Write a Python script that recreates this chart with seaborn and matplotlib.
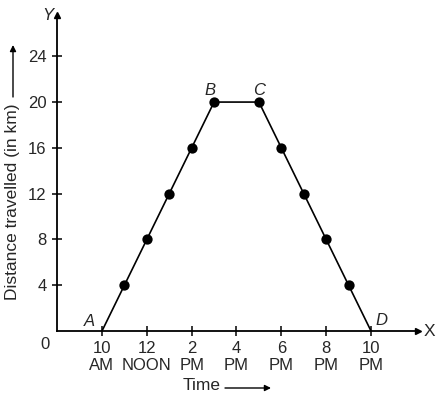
import pandas as pd
import matplotlib
matplotlib.use("Agg")
import matplotlib.pyplot as plt
import seaborn as sns

# hours on a 24h clock and distance travelled (km)
hours = [10, 11, 12, 13, 14, 15, 17, 18, 19, 20, 21, 22]
distance = [0, 4, 8, 12, 16, 20, 20, 16, 12, 8, 4, 0]

tick_hours = [10, 12, 14, 16, 18, 20, 22]
tick_labels = ["10\nAM", "12\nNOON", "2\nPM", "4\nPM", "6\nPM", "8\nPM", "10\nPM"]
y_ticks = [4, 8, 12, 16, 20, 24]

point_names = ["A", "B", "C", "D"]
point_hours = [10, 15, 17, 22]
point_dist = [0, 20, 20, 0]

sns.set_style("white")
plt.rcParams['font.family'] = ['Liberation Sans', 'DejaVu Sans']

df = pd.DataFrame({"hour": hours, "distance": distance})

W, H = 436, 396
fig = plt.figure(figsize=(W / 100, H / 100), dpi=100)
ax = fig.add_axes([0.131, 0.164, 0.828, 0.798])

sns.lineplot(data=df, x="hour", y="distance", color="black", linewidth=1.2, ax=ax)
inner = df.iloc[1:-1]
sns.scatterplot(data=inner, x="hour", y="distance", color="black", s=55,
                edgecolor="black", linewidth=0, ax=ax, zorder=5)

ax.set_xlim(8, 24.1)
ax.set_ylim(0, 27.6)
ax.set_xticks(tick_hours)
ax.set_xticklabels(tick_labels, fontsize=12, linespacing=1.1)
ax.set_yticks(y_ticks)
ax.set_yticklabels([str(v) for v in y_ticks], fontsize=12)
ax.tick_params(axis="both", direction="inout", length=7, width=1.1,
               color="black", pad=4, bottom=True, left=True)
ax.tick_params(axis="y", pad=4)

for side in ["top", "right"]:
    ax.spines[side].set_visible(False)
for side in ["left", "bottom"]:
    ax.spines[side].set_color("black")
    ax.spines[side].set_linewidth(1.3)

# arrow heads on axes
ax.plot(1, 0, marker=">", color="black", markersize=5,
        transform=ax.transAxes, clip_on=False)
ax.plot(0, 1, marker="^", color="black", markersize=5,
        transform=ax.transAxes, clip_on=False)

ax.set_xlabel("")
ax.set_ylabel("")

# axis titles with long arrows
fig.text(13 / W, 1 - 300 / H, "Distance travelled (in km)", rotation=90,
         ha="center", va="bottom", fontsize=12.5)
ax.annotate("", xy=(13 / W, 1 - 45 / H), xytext=(13 / W, 1 - 97 / H),
            xycoords="figure fraction", textcoords="figure fraction",
            arrowprops=dict(arrowstyle="-|>", color="black", lw=1.0,
                            mutation_scale=9, shrinkA=0, shrinkB=0))
fig.text(183 / W, 1 - 386 / H, "Time", ha="left", va="center", fontsize=12.5)
ax.annotate("", xy=(271 / W, 1 - 388 / H), xytext=(225 / W, 1 - 388 / H),
            xycoords="figure fraction", textcoords="figure fraction",
            arrowprops=dict(arrowstyle="-|>", color="black", lw=1.0,
                            mutation_scale=9, shrinkA=0, shrinkB=0))

ax.text(-0.02, -0.02, "0", transform=ax.transAxes, ha="right", va="top", fontsize=12)
ax.text(-0.025, 1.0, "Y", transform=ax.transAxes, ha="center", va="center",
        fontsize=12, style="italic")
ax.text(1.03, 0.0, "X", transform=ax.transAxes, ha="center", va="center",
        fontsize=12.5)

offsets = {"A": (-0.3, 0.8, "right"), "B": (-0.2, 1.0, "center"),
           "C": (0.0, 1.0, "center"), "D": (0.2, 0.9, "left")}
for name, h, d in zip(point_names, point_hours, point_dist):
    dx, dy, ha = offsets[name]
    ax.text(h + dx, d + dy, name, ha=ha, va="center", fontsize=12,
            style="italic")

fig.savefig("out.png", dpi=100)
